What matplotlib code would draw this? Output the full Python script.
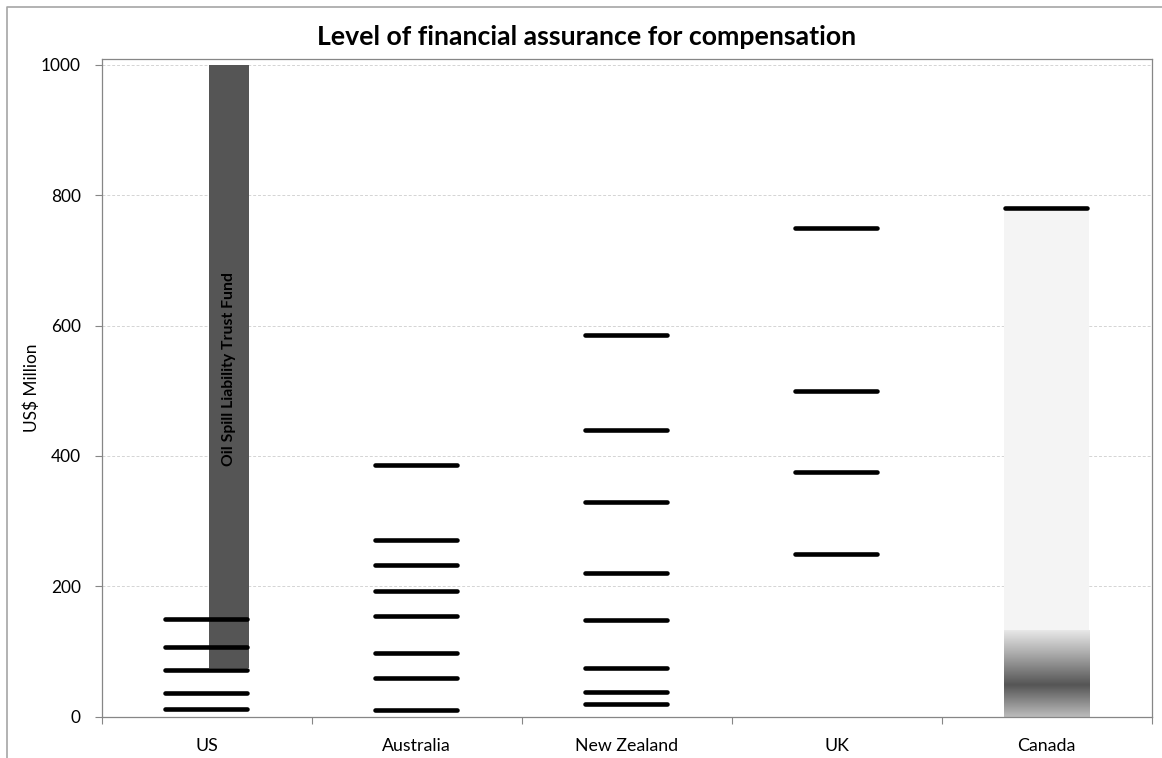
import matplotlib
matplotlib.use('Agg')
import matplotlib.pyplot as plt
import numpy as np
from matplotlib.lines import Line2D
from matplotlib.colors import LinearSegmentedColormap

# chart data (US$ million)
countries = ['US', 'Australia', 'New Zealand', 'UK', 'Canada']
us_levels = [150, 107, 72, 37, 12]
australia_levels = [386, 271, 233, 193, 155, 98, 59, 10]
nz_levels = [585, 440, 330, 220, 148, 75, 38, 19]
uk_levels = [750, 500, 376, 250]
canada_levels = [780]
levels = [us_levels, australia_levels, nz_levels, uk_levels, canada_levels]

us_fund_bottom = 75
us_fund_top = 1000
us_fund_label = 'Oil Spill Liability Trust Fund'
canada_gradient_top = 133

title = 'Level of financial assurance for compensation'
y_label = 'US$ Million'
y_ticks = [0, 200, 400, 600, 800, 1000]

W, H = 1162, 758
fig = plt.figure(figsize=(W / 100, H / 100), dpi=100)
ax = fig.add_axes([101.7 / W, 1 - 716.7 / H, (1151.7 - 101.7) / W, (716.7 - 59) / H])

FONT = 'Lato'
x = np.arange(len(countries))

# US trust fund bar, offset to the right of the category centre
ax.bar(x[0] + 0.0095, us_fund_top - us_fund_bottom, bottom=us_fund_bottom, width=0.19,
       align='edge', color='#555555', zorder=2)
ax.text(x[0] + 0.105, 534, us_fund_label, rotation=90, ha='center', va='center',
        fontsize=11.3, fontweight='bold', family=FONT, color='black', zorder=3)

# Canada: pale bar with a dark gradient band near the bottom
ax.bar(x[4] - 0.205, canada_levels[0], width=0.405, align='edge', color='#f4f4f4', zorder=1)
grad_cmap = LinearSegmentedColormap.from_list(
    'canada', [(0.0, '#bcbcbc'), (0.37, '#555555'), (0.75, '#b0b0b0'), (1.0, '#e8e8e8')])
grad = np.linspace(0, 1, 256).reshape(-1, 1)
ax.imshow(grad, cmap=grad_cmap, aspect='auto', origin='lower', interpolation='bilinear',
          extent=(x[4] - 0.205, x[4] + 0.2, 0, canada_gradient_top), zorder=1.5)

# level markers
for i, vals in enumerate(levels):
    lc = ax.hlines(vals, x[i] - 0.197, x[i] + 0.194, colors='black', linewidth=3.3, zorder=4)
    lc.set_capstyle('round')

ax.set_xlim(-0.5, 4.5)
ax.set_ylim(0, 1009)
ax.set_yticks(y_ticks)
ax.set_yticklabels([str(v) for v in y_ticks], family=FONT, fontsize=12.4)
ax.set_xticks(x)
ax.set_xticklabels(countries, family=FONT, fontsize=12.8)
ax.set_xticks(np.arange(-0.5, 5.0, 1.0), minor=True)
ax.tick_params(axis='x', which='major', length=0, pad=15)
ax.tick_params(axis='x', which='minor', length=5, width=0.8, color='#868686', direction='out')
ax.tick_params(axis='y', length=5, width=0.8, color='#868686', direction='out', pad=10)
ax.yaxis.grid(True, color='#d4d4d4', linestyle=(0, (3, 2)), linewidth=0.7)
ax.set_axisbelow(True)
for s in ax.spines.values():
    s.set_color('#868686')
    s.set_linewidth(0.9)

ax.set_ylabel(y_label, family=FONT, fontsize=12.4)
ax.yaxis.set_label_coords(-0.0588, 0.5)

fig.text(587 / W, 1 - 37 / H, title, ha='center', va='center', fontsize=19.2,
         fontweight='bold', family=FONT)

# outer chart border (cut off at right/bottom)
fig.add_artist(Line2D([7 / W, 7 / W, 1.0], [0.0, 1 - 7 / H, 1 - 7 / H],
                      transform=fig.transFigure, color='#a6a6a6', linewidth=1.2))

fig.savefig('out.png', dpi=100)
